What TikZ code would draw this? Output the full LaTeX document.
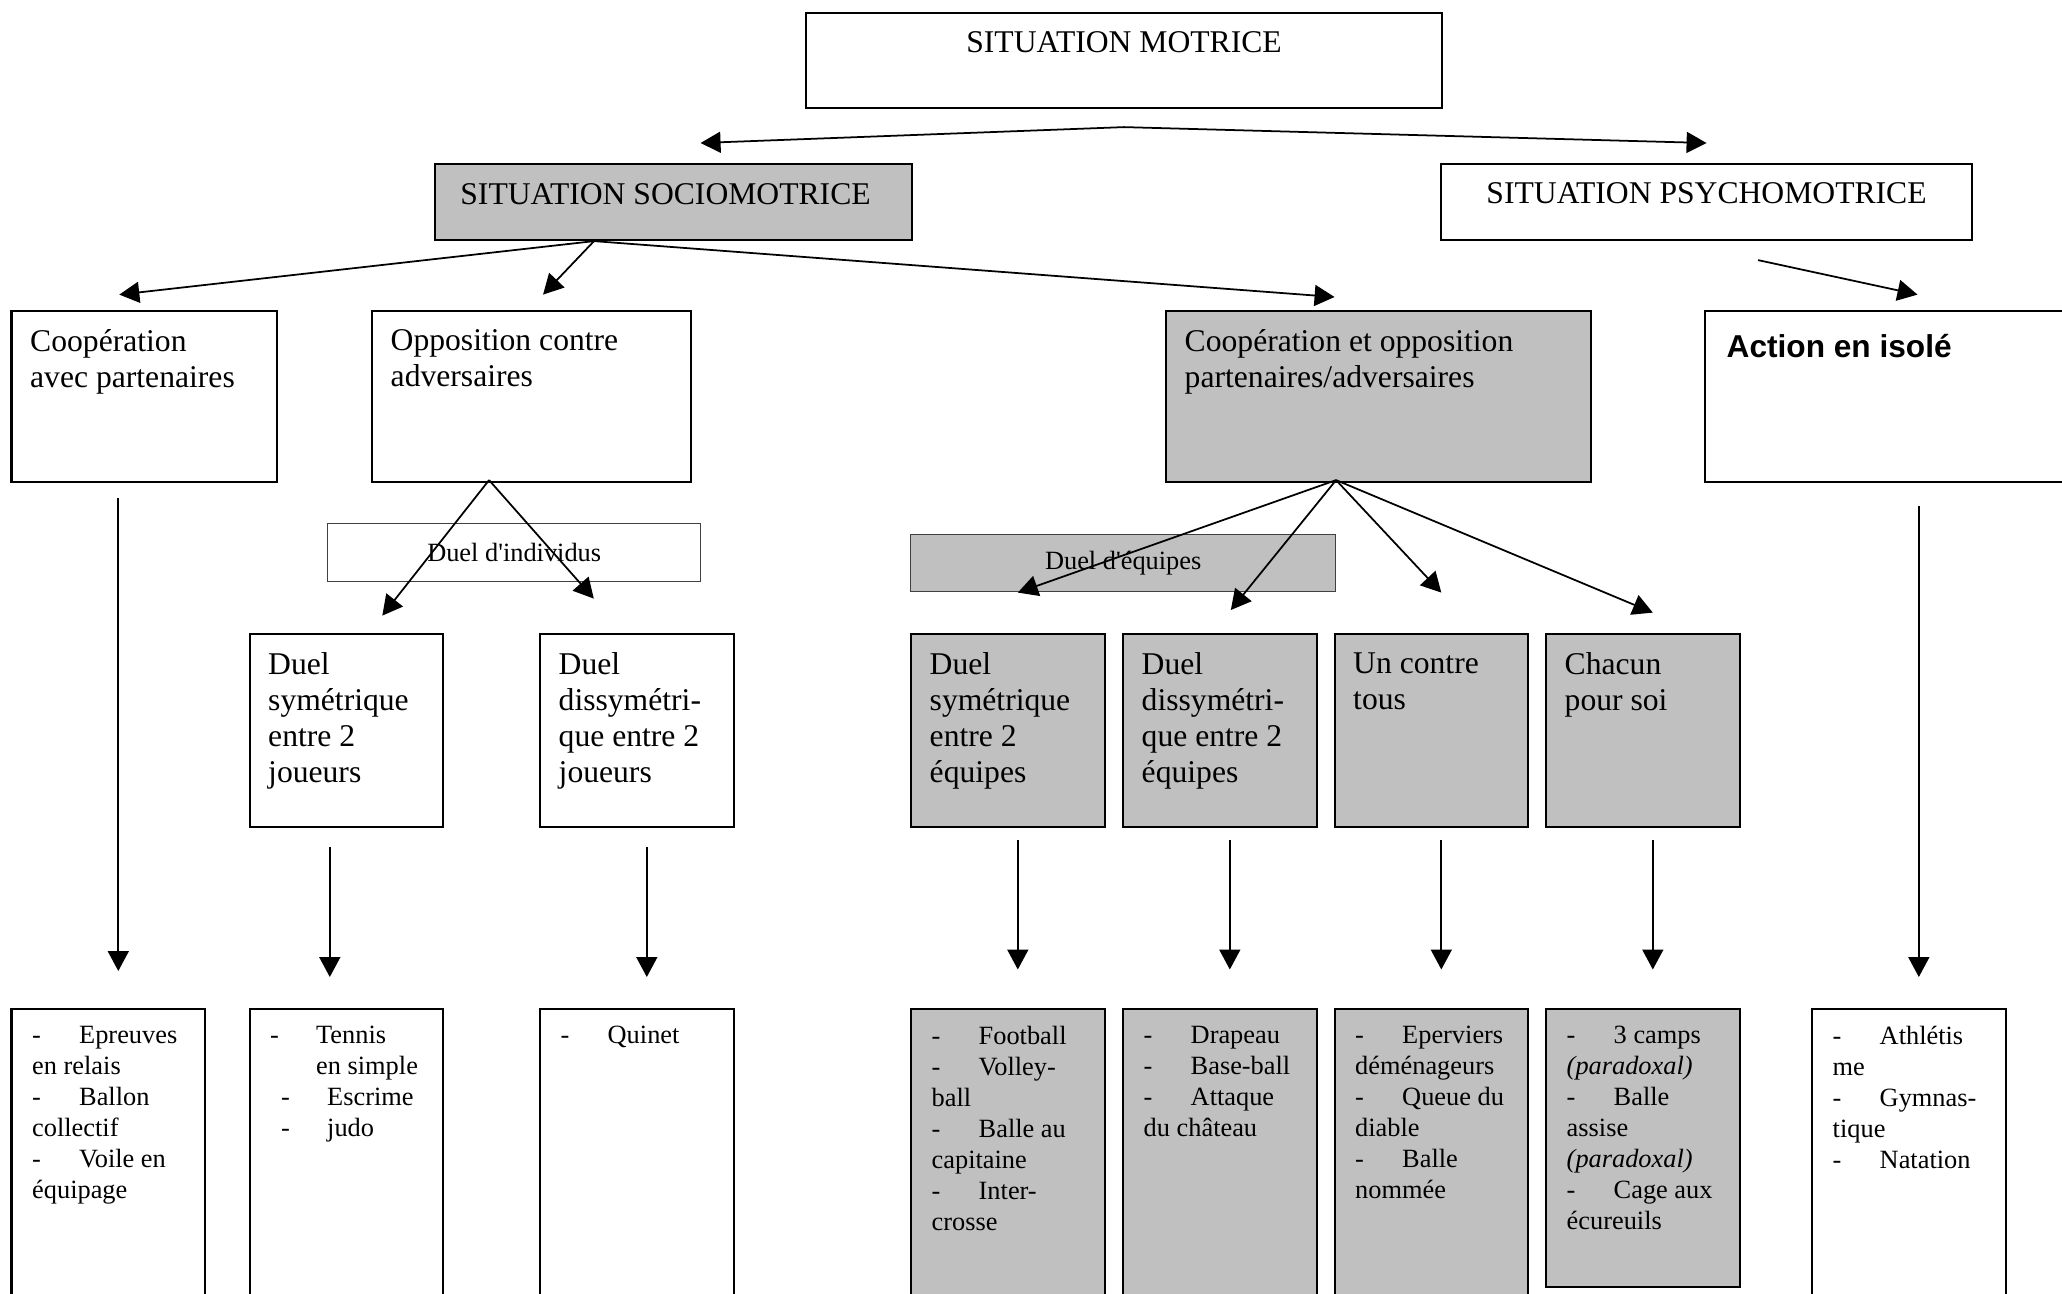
\documentclass[tikz,border=0pt]{standalone}
\usepackage{fontspec}
\setmainfont{Liberation Serif}
\newfontfamily\arialfont{Liberation Sans}
\usetikzlibrary{arrows.meta}
\definecolor{boxgrey}{HTML}{C0C0C0}
\newcommand{\tiret}[1][0.47cm]{\makebox[#1][l]{-}}
\tikzset{
  box/.style={draw, line width=0.6pt, anchor=north west, inner sep=0pt},
  greybox/.style={box, fill=boxgrey},
  thinbox/.style={draw=black!75, line width=0.4pt},
  big/.style={font=\fontsize{9}{10.3}\selectfont, align=left, inner sep=0pt},
  small/.style={font=\fontsize{7.5}{8.8}\selectfont, align=left, inner sep=0pt},
  title/.style={label={[big, anchor=north, yshift=-0.19cm]north:#1}},
  toptext/.style={label={[big, anchor=north west, xshift=0.19cm, yshift=-0.19cm]north west:#1}},
  list/.style={label={[small, anchor=north west, xshift=0.21cm, yshift=-0.175cm]north west:#1}},
  arr/.style={-{Triangle[length=0.2cm, width=0.21cm]}, line width=0.5pt},
}
\begin{document}
\begin{tikzpicture}
    \useasboundingbox[fill=white] (0,0) rectangle (20.62,-12.93);

    \node[box, minimum width=6.36cm, minimum height=0.95cm, title={SITUATION MOTRICE}] (mot) at (8.05,-0.12) {};
    \node[greybox, minimum width=4.77cm, minimum height=0.76cm,
        label={[big, anchor=north, xshift=-0.08cm, yshift=-0.2cm]north:SITUATION SOCIOMOTRICE}] (soc) at (4.34,-1.63) {};
    \node[box, minimum width=5.31cm, minimum height=0.76cm, title={SITUATION PSYCHOMOTRICE}] (psy) at (14.40,-1.63) {};

    \node[box, minimum width=2.655cm, minimum height=1.71cm, toptext={Coopération\\avec partenaires}] (coop) at (0.105,-3.10) {};
    \node[box, minimum width=3.19cm, minimum height=1.71cm, toptext={Opposition contre\\adversaires}] (opp) at (3.71,-3.10) {};
    \node[greybox, minimum width=4.25cm, minimum height=1.71cm, toptext={Coopération et opposition\\partenaires/adversaires}] (coopopp) at (11.65,-3.10) {};
    \node[box, minimum width=3.76cm, minimum height=1.71cm,
        label={[anchor=north west, inner sep=0pt, font=\arialfont\bfseries\fontsize{9}{10.3}\selectfont, xshift=0.22cm, yshift=-0.24cm]north west:Action en isolé}] (isole) at (17.04,-3.10) {};

    \node[box, thinbox, small, minimum width=3.73cm, minimum height=0.58cm] (dind) at (3.27,-5.23) {Duel d\textquotesingle{}individus};
    \node[greybox, thinbox, small, minimum width=4.25cm, minimum height=0.57cm] (dequ) at (9.10,-5.34) {Duel d\textquotesingle{}équipes};

    \node[box, minimum width=1.935cm, minimum height=1.934cm, toptext={Duel\\symétrique\\entre 2\\joueurs}] (dsj) at (2.485,-6.326) {};
    \node[box, minimum width=1.935cm, minimum height=1.934cm, toptext={Duel\\dissymétri-\\que entre 2\\joueurs}] (ddj) at (5.39,-6.326) {};
    \node[greybox, minimum width=1.935cm, minimum height=1.934cm, toptext={Duel\\symétrique\\entre 2\\équipes}] (dse) at (9.10,-6.326) {};
    \node[greybox, minimum width=1.935cm, minimum height=1.934cm, toptext={Duel\\dissymétri-\\que entre 2\\équipes}] (dde) at (11.22,-6.326) {};
    \node[greybox, minimum width=1.935cm, minimum height=1.934cm, toptext={Un contre\\tous}] (uct) at (13.335,-6.326) {};
    \node[greybox, minimum width=1.935cm, minimum height=1.934cm, toptext={Chacun\\pour soi}] (cps) at (15.45,-6.326) {};

    \node[box, minimum width=1.935cm, minimum height=2.92cm,
        list={\tiret Epreuves\\en relais\\\tiret Ballon\\collectif\\\tiret Voile en\\équipage}] (epr) at (0.105,-10.08) {};
    \node[box, minimum width=1.935cm, minimum height=2.92cm,
        list={\tiret[0.46cm]Tennis\\\hspace*{0.46cm}en simple\\\hspace*{0.11cm}\tiret[0.46cm]Escrime\\\hspace*{0.11cm}\tiret[0.46cm]judo}] (ten) at (2.485,-10.08) {};
    \node[box, minimum width=1.935cm, minimum height=2.92cm, list={\tiret Quinet}] (qui) at (5.39,-10.08) {};
    \node[greybox, minimum width=1.935cm, minimum height=2.92cm,
        list={\tiret Football\\\tiret Volley-\\ball\\\tiret Balle au\\capitaine\\\tiret Inter-\\crosse}] (foo) at (9.10,-10.08) {};
    \node[greybox, minimum width=1.935cm, minimum height=2.92cm,
        list={\tiret Drapeau\\\tiret Base-ball\\\tiret Attaque\\du château}] (dra) at (11.22,-10.08) {};
    \node[greybox, minimum width=1.935cm, minimum height=2.92cm,
        list={\tiret Eperviers\\déménageurs\\\tiret Queue du\\diable\\\tiret Balle\\nommée}] (epv) at (13.335,-10.08) {};
    \node[greybox, minimum width=1.935cm, minimum height=2.78cm,
        list={\tiret 3 camps\\\textit{(paradoxal)}\\\tiret Balle\\assise\\\textit{(paradoxal)}\\\tiret Cage aux\\écureuils}] (cam) at (15.45,-10.08) {};
    \node[box, minimum width=1.935cm, minimum height=2.92cm,
        list={\tiret Athlétis\\me\\\tiret Gymnas-\\tique\\\tiret Natation}] (ath) at (18.11,-10.08) {};

    \coordinate (f0) at ([yshift=-0.18cm]mot.south);
    \draw[arr] (f0) -- ([shift={(0.27,0.2)}]soc.north);
    \draw[arr] (f0) -- ([yshift=0.2cm]psy.north);

    \coordinate (f1) at ([xshift=1.6cm]soc.south west);
    \draw[arr] (f1) -- ([shift={(-0.25,0.154)}]coop.north);
    \draw[arr] (f1) -- ([shift={(0.115,0.154)}]opp.north);
    \draw[arr] (f1) -- ([shift={(-0.44,0.13)}]coopopp.north);
    \draw[arr] ([shift={(0.515,-0.19)}]psy.south) -- ([shift={(2.135,0.154)}]isole.north west);

    \coordinate (f2) at ([shift={(-0.425,0.03)}]opp.south);
    \draw[arr] (f2) -- ([shift={(0.36,0.17)}]dsj.north);
    \draw[arr] (f2) -- ([shift={(-0.43,0.34)}]ddj.north);

    \coordinate (f3) at ([shift={(-0.425,0.03)}]coopopp.south);
    \draw[arr] (f3) -- ([shift={(0.1,0.4)}]dse.north);
    \draw[arr] (f3) -- ([shift={(0.11,0.226)}]dde.north);
    \draw[arr] (f3) -- ([shift={(0.1,0.4)}]uct.north);
    \draw[arr] (f3) -- ([shift={(0.1,0.2)}]cps.north);

    \draw[arr, shorten <=0.15cm, shorten >=0.37cm] ([xshift=0.1cm]epr.north |- coop.south) -- ([xshift=0.1cm]epr.north);
    \draw[arr, shorten <=0.185cm, shorten >=0.31cm] ([xshift=-0.165cm]ten.north |- dsj.south) -- ([xshift=-0.165cm]ten.north);
    \draw[arr, shorten <=0.185cm, shorten >=0.31cm] ([xshift=0.1cm]qui.north |- ddj.south) -- ([xshift=0.1cm]qui.north);
    \draw[arr, shorten <=0.12cm, shorten >=0.385cm] ([xshift=0.1cm]foo.north |- dse.south) -- ([xshift=0.1cm]foo.north);
    \draw[arr, shorten <=0.12cm, shorten >=0.385cm] ([xshift=0.1cm]dra.north |- dde.south) -- ([xshift=0.1cm]dra.north);
    \draw[arr, shorten <=0.12cm, shorten >=0.385cm] ([xshift=0.1cm]epv.north |- uct.south) -- ([xshift=0.1cm]epv.north);
    \draw[arr, shorten <=0.12cm, shorten >=0.385cm] ([xshift=0.1cm]cam.north |- cps.south) -- ([xshift=0.1cm]cam.north);
    \draw[arr, shorten <=0.23cm, shorten >=0.31cm] ([xshift=0.1cm]ath.north |- isole.south) -- ([xshift=0.1cm]ath.north);
\end{tikzpicture}
\end{document}
